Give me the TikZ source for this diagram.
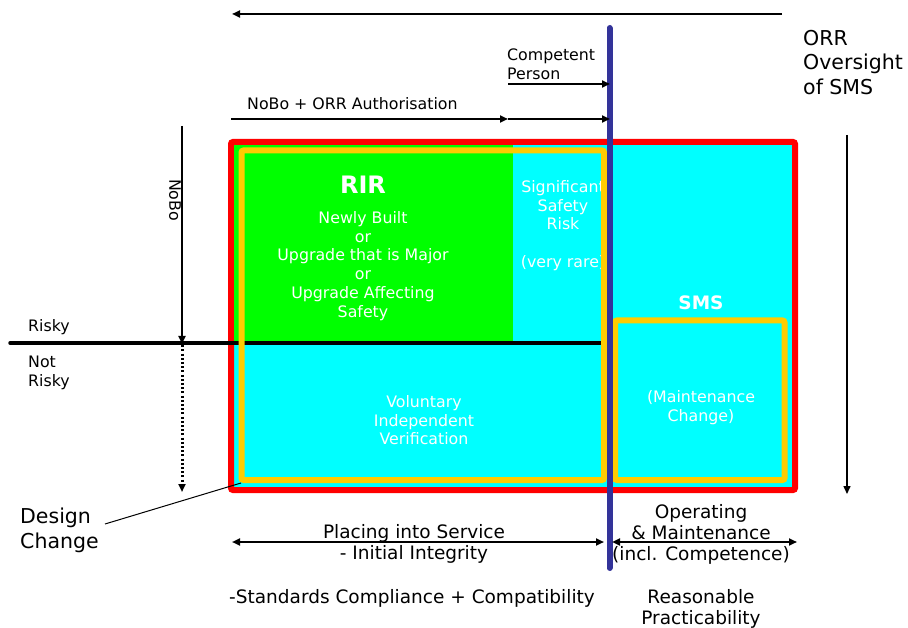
\documentclass[tikz,border=0pt]{standalone}
\usepackage{fontspec}
\setmainfont{DejaVu Sans}
\usepackage{xcolor}
\usepackage{tikz}
\usetikzlibrary{arrows.meta, positioning, calc}
\definecolor{rirgreen}{RGB}{0,255,0}
\definecolor{zonecyan}{RGB}{0,255,255}
\definecolor{gold}{RGB}{255,204,0}
\definecolor{divider}{RGB}{51,51,153}
\tikzset{
  lbl/.style={inner sep=0pt, font=\fontsize{15.8}{18.5}\selectfont, align=left},
  lblmid/.style={inner sep=0pt, font=\fontsize{18.5}{21}\selectfont, align=center},
  lblbig/.style={inner sep=0pt, font=\fontsize{20.5}{24.5}\selectfont, align=left},
  zonetxt/.style={inner sep=0pt, text=white, font=\fontsize{15.8}{18.8}\selectfont, align=center},
  zonehead/.style={inner sep=0pt, text=white, font=\bfseries\fontsize{24}{28}\selectfont},
  arrow/.style={-{Triangle[length=8pt, width=7pt]}, line width=2pt},
  biarrow/.style={{Triangle[length=8pt, width=7pt]}-{Triangle[length=8pt, width=7pt]}, line width=2pt},
  frame/.style={line width=6pt, rounded corners=2pt},
}

\begin{document}
\begin{tikzpicture}[x=1pt, y=-1pt]
  \useasboundingbox (0,0) rectangle (908,628);

  % outer frame and the RIR zone
  \draw[frame, red, fill=zonecyan] (231,142) rectangle (795,490);
  \fill[rirgreen] (234,145) rectangle (513,343);

  % risky / not risky split
  \coordinate (riskL) at (10,343);
  \coordinate (riskR) at (612,343);
  \draw[line width=3.5pt, line cap=round] (riskL) -- (riskR);

  % texts inside the zones
  \node[zonehead, anchor=base] (rir) at (363,194) {RIR};
  \node[zonetxt, anchor=north] (rirlist) at (363,211)
    {Newly Built\\or\\Upgrade that is Major\\or\\Upgrade Affecting\\Safety};
  \node[zonetxt, anchor=north] (sigrisk) at (563,180)
    {Significant\\Safety\\Risk\\[19pt](very rare)};
  \node[zonetxt, anchor=north] (voluntary) at (424,395)
    {Voluntary\\Independent\\Verification};
  \node[zonehead, font=\bfseries\fontsize{18.5}{22}\selectfont, anchor=base] (sms)
    at (701,310) {SMS};
  \node[zonetxt, anchor=north] (maint) at (701,390) {(Maintenance\\Change)};

  % design change and maintenance change boxes
  \draw[frame, gold] (241.5,150.5) rectangle (604,480);
  \draw[frame, gold] (615,320.5) rectangle (784.5,480);

  % dividing line between the two regimes
  \coordinate (divTop) at (609.5,28);
  \coordinate (divBot) at (609.5,568);
  \draw[divider, line width=6pt, line cap=round] (divTop) -- (divBot);

  % top arrows
  \coordinate (oversightR) at (782,14);
  \coordinate (oversightL) at (232,14);
  \draw[arrow] (oversightR) -- (oversightL);

  \node[lbl, anchor=north west] (competent) at (507,49) {Competent\\Person};
  \coordinate (compL) at (508,84);
  \coordinate (compR) at (610,84);
  \draw[arrow] (compL) -- (compR);

  \node[lbl, anchor=north west] (authorisation) at (247,97) {NoBo + ORR Authorisation};
  \coordinate (authL) at (231,119);
  \coordinate (authM) at (508,119);
  \coordinate (authR) at (610,119);
  \draw[arrow] (authL) -- (authM);
  \draw[arrow] (authM) -- (authR);

  \node[lblbig, anchor=north west] (oversight) at (803,30) {ORR\\Oversight\\of SMS};
  \coordinate (orrTop) at (847,135);
  \coordinate (orrBot) at (847,494);
  \draw[arrow, line width=1.5pt] (orrTop) -- (orrBot);

  % left side
  \node[lbl, rotate=-90] (nobo) at (175,200) {NoBo};
  \coordinate (noboTop) at (182,126);
  \coordinate (noboMid) at (182,344);
  \coordinate (noboBot) at (182,492);
  \draw[arrow] (noboTop) -- (noboMid);
  \draw[arrow, line width=3pt, dash pattern=on 2pt off 2.2pt]
    ([yshift=3pt]noboMid) -- (noboBot);

  \node[lbl, anchor=base west] (risky) at (28,332) {Risky};
  \node[lbl, anchor=north west] (notrisky) at (28,356) {Not\\Risky};

  \node[lblbig, anchor=north west] (design) at (20,508) {Design\\Change};
  \coordinate (designFoot) at (105,524);
  \coordinate (designTip) at (241,483);
  \draw[line width=1pt] (designFoot) -- (designTip);

  % bottom arrows and labels
  \coordinate (placeL) at (232,542);
  \coordinate (placeR) at (604,542);
  \coordinate (operL) at (612,542);
  \coordinate (operR) at (797,542);
  \draw[biarrow] (placeL) -- (placeR);
  \draw[biarrow] (operL) -- (operR);

  \node[lblmid, anchor=north] (placing) at (414,524)
    {Placing into Service\\- Initial Integrity};
  \node[lblmid, anchor=north] (operating) at (701,504)
    {Operating\\\& Maintenance\\(incl. Competence)};
  \node[lblmid, anchor=base west] (standards) at (229,603)
    {-Standards Compliance + Compatibility};
  \node[lblmid, anchor=north] (reasonable) at (701,589)
    {Reasonable\\Practicability};
\end{tikzpicture}
\end{document}
